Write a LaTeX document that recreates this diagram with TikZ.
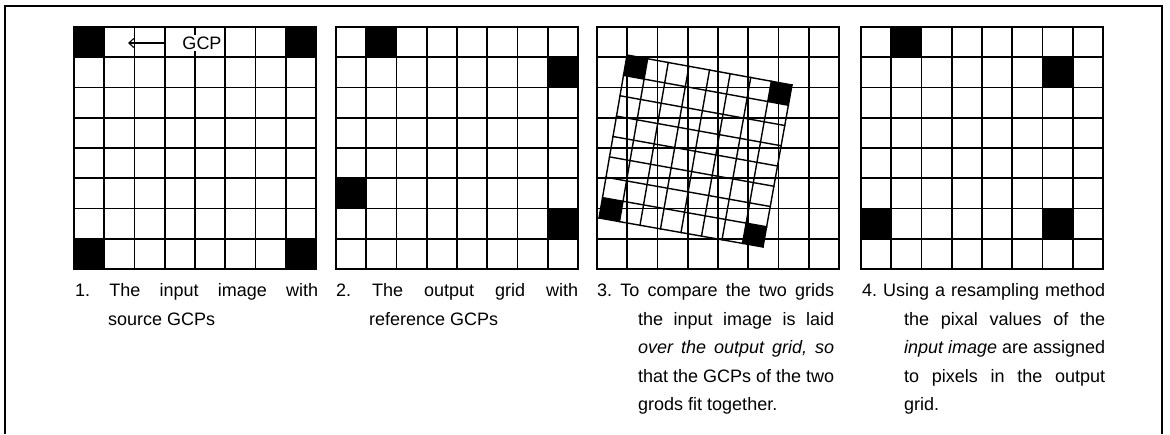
\documentclass[tikz,border=0pt]{standalone}
\usepackage{fontspec}
\setmainfont{Liberation Sans}
\usetikzlibrary{calc,arrows.meta}
\frenchspacing
\newcommand\cellsz{30.25}
\newcommand\drawplaingrid[1]{%
  \begin{scope}[shift={(#1,27)}]
    \foreach \k in {0,...,8} {
      \draw[gridline] (\k*\cellsz,0) -- (\k*\cellsz,242);
      \draw[gridline] (0,\k*\cellsz) -- (242,\k*\cellsz);
    }
  \end{scope}}
\newcommand\blackcells[2]{%
  \begin{scope}[shift={(#1,27)}]
    \foreach \cx/\cy in {#2} {
      \fill[gcpcell] (\cx*\cellsz,\cy*\cellsz) rectangle ({(\cx+1)*\cellsz},{(\cy+1)*\cellsz});
    }
  \end{scope}}
\begin{document}
\begin{tikzpicture}[x=1pt,y=-1pt,
  gridline/.style={line width=1.6pt,line cap=rect},
  frameline/.style={line width=1.5pt},
  gcpcell/.style={fill=black},
  arrowline/.style={line width=1.1pt},
  captext/.style={anchor=base west,inner sep=0pt,font=\fontsize{18}{28.5}\selectfont},
  labeltext/.style={fill=white,inner xsep=1pt,inner ysep=2pt,font=\fontsize{18}{22}\selectfont},
]
\useasboundingbox (0,0) rectangle (1170,434);
% outer frame (open at the bottom)
\draw[frameline] (5,434) -- (5,6) -- (1162,6) -- (1162,434);

% ---- panel 1 : input image with source GCPs
\blackcells{74}{0/0,7/0,0/7,7/7}
\drawplaingrid{74}
\node[labeltext] (gcp) at (202,43) {GCP};
\coordinate (gcptip) at (128,43);
\draw[arrowline,-{Straight Barb[length=5pt,width=9pt]},shorten <=15pt] (gcp) -- (gcptip);

% ---- panel 2 : output grid with reference GCPs
\blackcells{336}{1/0,7/1,0/5,7/6}
\drawplaingrid{336}

% ---- panel 3 : input image laid over output grid
\drawplaingrid{597}
\coordinate (qa) at (627,55);
\coordinate (qb) at (792,85);
\coordinate (qc) at (763,247);
\coordinate (qd) at (599,218);
\foreach \k in {0,...,8} {
  \draw[gridline,line width=1.4pt] ($(qa)!{\k/8}!(qb)$) -- ($(qd)!{\k/8}!(qc)$);
  \draw[gridline,line width=1.4pt] ($(qa)!{\k/8}!(qd)$) -- ($(qb)!{\k/8}!(qc)$);
}
\foreach \a/\u in {0/0,1/0.125,7/0.875,8/1} {
  \foreach \b/\v in {0/0,1/0.125,7/0.875,8/1} {
    \coordinate (p\a\b) at ($($(qa)!\u!(qb)$)!\v!($(qd)!\u!(qc)$)$);
  }
}
\fill[gcpcell] (p00) -- (p10) -- (p11) -- (p01) -- cycle;
\fill[gcpcell] (p70) -- (p80) -- (p81) -- (p71) -- cycle;
\fill[gcpcell] (p07) -- (p17) -- (p18) -- (p08) -- cycle;
\fill[gcpcell] (p77) -- (p87) -- (p88) -- (p78) -- cycle;

% ---- panel 4 : resampled output
\blackcells{861}{1/0,6/1,0/6,6/6}
\drawplaingrid{861}

% ---- captions
\node[captext] (c1a) at (75,296) {\makebox[243pt][s]{1. The input image with}};
\node[captext] (c1b) at (108,325) {source GCPs};

\node[captext] (c2a) at (336,296) {\makebox[242pt][s]{2. The output grid with}};
\node[captext] (c2b) at (369,325) {reference GCPs};

\node[captext] (c3a) at (597,296) {\makebox[237pt][s]{3. To compare the two grids}};
\node[captext] (c3b) at (638,325) {\makebox[196pt][s]{the input image is laid}};
\node[captext] (c3c) at (638,353) {\makebox[196pt][s]{\itshape over the output grid, so}};
\node[captext] (c3d) at (638,382) {\makebox[196pt][s]{that the GCPs of the two}};
\node[captext] (c3e) at (638,410) {grods fit together.};

\node[captext] (c4a) at (862,296) {\makebox[243pt][s]{4. Using a resampling method}};
\node[captext] (c4b) at (904,325) {\makebox[201pt][s]{the pixal values of the}};
\node[captext] (c4c) at (904,353) {\makebox[201pt][s]{\textit{input image} are assigned}};
\node[captext] (c4d) at (904,382) {\makebox[201pt][s]{to pixels in the output}};
\node[captext] (c4e) at (904,410) {grid.};
\end{tikzpicture}
\end{document}
